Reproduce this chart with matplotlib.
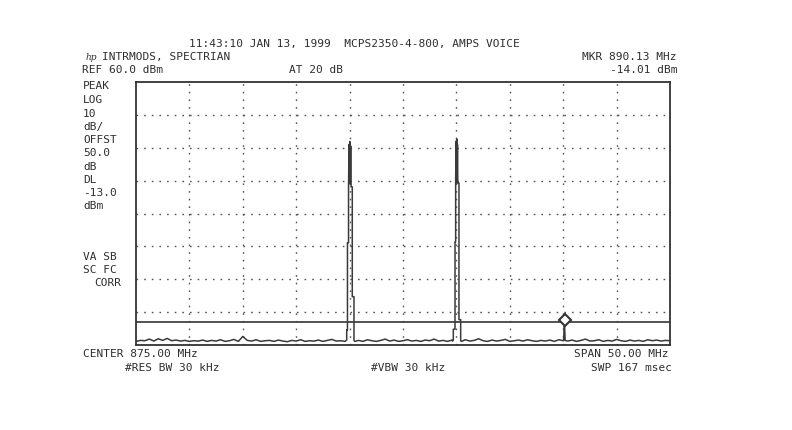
import numpy as np
import matplotlib
matplotlib.use("Agg")
import matplotlib.pyplot as plt
import matplotlib.transforms as mtransforms

# ---------------- data ----------------
f_start, f_stop = 850.0, 900.0        # MHz (center 875, span 50)
ref_level, bottom_level = 60.0, -20.0  # dBm
display_line = -13.0                   # dBm
marker_freq, marker_level = 890.13, -14.01

noise_freq = np.linspace(f_start, f_stop, 121)
noise_db = [
    -18.9, -18.6, -18.7, -18.2, -18.8, -18.1, -18.6, -18.0, -18.7, -18.5,
    -18.8, -18.6, -18.9, -18.7, -18.8, -18.5, -18.9, -18.6, -18.8, -18.4,
    -18.9, -18.7, -18.3, -18.9, -17.4, -18.6, -18.8, -18.4, -18.9, -18.7,
    -18.6, -18.9, -18.5, -18.8, -19.0, -18.6, -18.8, -18.4, -18.9, -18.7,
    -18.8, -18.5, -18.9, -18.6, -18.3, -18.8, -18.7, -18.9, -18.5, -18.8,
    -18.6, -18.9, -18.4, -18.7, -18.9, -18.6, -18.2, -18.8, -18.5, -18.9,
    -18.7, -18.4, -18.8, -18.6, -18.9, -18.5, -18.7, -18.2, -18.8, -18.6,
    -18.9, -18.5, -18.7, -18.9, -18.4, -18.8, -18.6, -18.1, -18.7, -18.9,
    -18.5, -18.8, -18.6, -18.3, -18.9, -18.7, -18.5, -18.8, -18.4, -18.7,
    -18.9, -18.6, -18.8, -18.5, -18.9, -18.4, -18.7, -18.8, -18.5, -18.9,
    -18.6, -18.2, -18.8, -18.7, -18.4, -18.9, -18.6, -18.8, -18.3, -18.7,
    -18.9, -18.5, -18.8, -18.6, -18.9, -18.4, -18.7, -18.5, -18.8, -18.6,
    -18.7,
]

peak1_freq = [869.64, 869.73, 869.73, 869.80, 869.80, 869.90, 869.90, 869.95, 869.98,
              870.02, 870.06, 870.10, 870.14, 870.25, 870.25, 870.41, 870.41, 870.50]
peak1_db = [-18.7, -18.5, -15.4, -15.4, 11.1, 11.1, 28.0, 41.0, 29.5,
            41.9, 29.0, 40.5, 28.1, 28.1, -5.3, -5.3, -18.6, -18.9]

peak2_freq = [879.62, 879.71, 879.71, 879.87, 879.87, 879.93, 879.93, 879.97, 880.00,
              880.03, 880.07, 880.10, 880.13, 880.24, 880.24, 880.40, 880.40, 880.48]
peak2_db = [-18.8, -18.6, -15.2, -15.2, 11.4, 11.4, 30.0, 42.0, 29.5,
            42.7, 29.3, 41.0, 29.3, 29.3, -12.3, -12.3, -18.7, -18.9]

spur_freq = [890.04, 890.09, 890.13, 890.18]
spur_db = [-18.7, -14.3, -14.01, -18.6]

header_lines = ["11:43:10 JAN 13, 1999  MCPS2350-4-800, AMPS VOICE",
                "INTRMODS, SPECTRIAN", "MKR 890.13 MHz",
                "REF 60.0 dBm", "AT 20 dB", "-14.01 dBm"]
left_labels = ["PEAK", "LOG", "10", "dB/", "OFFST", "50.0", "dB", "DL",
               "-13.0", "dBm"]
left_labels2 = ["VA SB", "SC FC", "CORR"]
footer = ["CENTER 875.00 MHz", "SPAN 50.00 MHz", "#RES BW 30 kHz",
          "#VBW 30 kHz", "SWP 167 msec"]

# ---------------- build trace ----------------
windows = [(min(peak1_freq), max(peak1_freq)),
           (min(peak2_freq), max(peak2_freq)),
           (min(spur_freq), max(spur_freq))]
nf = np.asarray(noise_freq)
nd = np.asarray(noise_db)
keep = np.ones(len(nf), bool)
for a, b in windows:
    keep &= ~((nf >= a) & (nf <= b))
segs = [(nf[keep], nd[keep]), (np.array(peak1_freq), np.array(peak1_db)),
        (np.array(peak2_freq), np.array(peak2_db)),
        (np.array(spur_freq), np.array(spur_db))]
tf = np.concatenate([s[0] for s in segs])
td = np.concatenate([s[1] for s in segs])
order = np.argsort(tf, kind="stable")
tf, td = tf[order], td[order]

# ---------------- figure ----------------
W, H = 792, 430
fig = plt.figure(figsize=(W / 100, H / 100), dpi=100)
fig.patch.set_facecolor("white")

L, T, R, B = 136, 82, 670, 345
ax = fig.add_axes([L / W, 1 - B / H, (R - L) / W, (B - T) / H])
ax.set_xlim(f_start, f_stop)
ax.set_ylim(bottom_level, ref_level)
ax.set_xticks([])
ax.set_yticks([])
for s in ax.spines.values():
    s.set_color("#333333")
    s.set_linewidth(1.3)

gcol = "#555555"
for k in range(1, 10):
    ax.axvline(f_start + k * (f_stop - f_start) / 10, color=gcol, lw=1.0,
               ls=(0, (1.2, 4.3)), zorder=1)
for k in range(1, 8):
    ax.axhline(ref_level - k * 10, color=gcol, lw=1.0, ls=(0, (1.2, 4.3)),
               zorder=1)

ax.axhline(display_line, color="#444444", lw=1.3, zorder=2)
ax.plot(tf, td, color="#3a3a3a", lw=1.1, zorder=3)

off = mtransforms.offset_copy(ax.transData, fig=fig, x=0, y=5, units="dots")
ax.plot([marker_freq], [marker_level], marker="D", ms=6.5, mfc="white",
        mec="#333333", mew=1.5, transform=off, zorder=4)

# ---------------- text ----------------
font = dict(family="DejaVu Sans Mono", fontsize=8.0, color="#2e2e2e")


def put(x, y, s, ha="left", **kw):
    d = dict(font)
    d.update(kw)
    fig.text(x / W, 1 - y / H, s, ha=ha, va="center", **d)


put(354, 44, header_lines[0], ha="center")
put(86, 57, "hp", family="DejaVu Serif", fontsize=6.5, style="italic")
put(102, 57, header_lines[1])
put(677, 57, header_lines[2], ha="right")
put(82, 70, header_lines[3])
put(316, 70, header_lines[4], ha="center")
put(677, 70, header_lines[5], ha="right")

ys = [86, 100, 114, 127, 140, 153, 167, 180, 193, 206]
for y, s in zip(ys, left_labels):
    put(83, y, s)
for y, s in zip([257, 270, 283], left_labels2):
    put(83 if s != "CORR" else 94, y, s)

put(83, 354, footer[0])
put(668, 354, footer[1], ha="right")
put(125, 368, footer[2])
put(408, 368, footer[3], ha="center")
put(672, 368, footer[4], ha="right")

fig.savefig("out.png", dpi=100, facecolor="white")
